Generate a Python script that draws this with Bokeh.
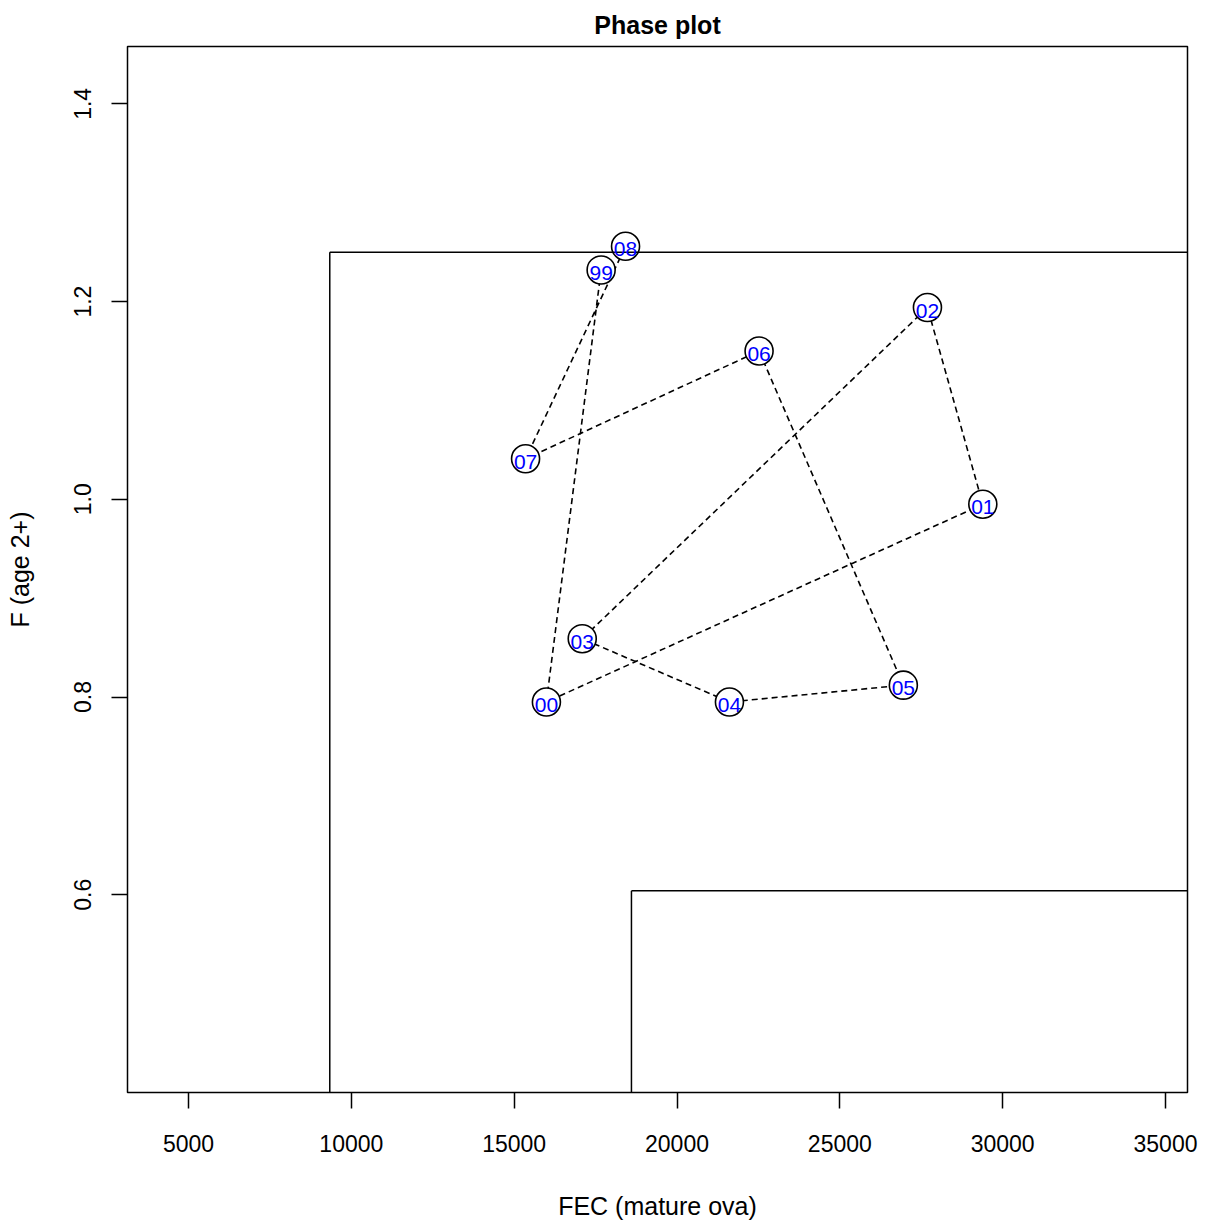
from bokeh.plotting import figure
from bokeh.models import Range1d, FixedTicker, NumeralTickFormatter, ColumnDataSource
from bokeh.embed import file_html
from bokeh.resources import INLINE

# ---- data ----
years = ["99", "00", "01", "02", "03", "04", "05", "06", "07", "08"]
fec = [17670, 15990, 29390, 27690, 17090, 21610, 26950, 22520, 15350, 18420]
f_age2 = [1.232, 0.795, 0.995, 1.194, 0.859, 0.795, 0.812, 1.150, 1.041, 1.256]

blim = 9338
flim = 1.25
bpa = 18601
fpa = 0.604

x_ticks = [5000, 10000, 15000, 20000, 25000, 30000, 35000]
y_ticks = [0.6, 0.8, 1.0, 1.2, 1.4]

x_lo, x_hi = 3127, 35675
y_lo, y_hi = 0.400, 1.458

FONT = "Liberation Sans"

p = figure(frame_width=1060, frame_height=1046,
           x_range=Range1d(x_lo, x_hi), y_range=Range1d(y_lo, y_hi),
           output_backend="svg", toolbar_location=None,
           min_border_left=127, min_border_right=21,
           min_border_top=46, min_border_bottom=130,
           title="Phase plot")
p.background_fill_color = "white"
p.border_fill_color = "white"
p.outline_line_color = "black"
p.outline_line_width = 1.5
p.grid.visible = False

p.title.align = "center"
p.title.text_font = FONT
p.title.text_font_size = "25px"
p.title.text_font_style = "bold"
p.title.text_color = "black"
p.title.standoff = 16

for ax in (p.xaxis[0], p.yaxis[0]):
    ax.axis_line_color = None
    ax.major_tick_in = 0
    ax.major_tick_out = 16
    ax.major_tick_line_color = "black"
    ax.major_tick_line_width = 1.5
    ax.minor_tick_line_color = None
    ax.major_label_text_font = FONT
    ax.major_label_text_font_size = "23px"
    ax.major_label_text_color = "black"
    ax.axis_label_text_font = FONT
    ax.axis_label_text_font_size = "25px"
    ax.axis_label_text_font_style = "normal"
    ax.axis_label_text_color = "black"

p.xaxis[0].ticker = FixedTicker(ticks=x_ticks)
p.xaxis[0].formatter = NumeralTickFormatter(format="0")
p.xaxis[0].axis_label = "FEC (mature ova)"
p.xaxis[0].major_label_standoff = 26
p.xaxis[0].axis_label_standoff = 37

p.yaxis[0].ticker = FixedTicker(ticks=y_ticks)
p.yaxis[0].formatter = NumeralTickFormatter(format="0.0")
p.yaxis[0].axis_label = "F (age 2+)"
p.yaxis[0].major_label_orientation = "vertical"
p.yaxis[0].major_label_standoff = 20
p.yaxis[0].axis_label_standoff = 38

src = ColumnDataSource(dict(x=fec, y=f_age2, lab=years))

p.line("x", "y", source=src, line_dash="6 4", line_width=1.6, line_color="black")
p.scatter("x", "y", source=src, marker="circle", size=28,
          fill_color="white", line_color="black", line_width=1.6)

p.segment(x0=[blim, blim, bpa, bpa], y0=[y_lo, flim, y_lo, fpa],
          x1=[blim, x_hi, bpa, x_hi], y1=[flim, flim, fpa, fpa],
          line_color="black", line_width=1.5)

p.text("x", "y", text="lab", source=src, text_color="blue",
       text_font_size="21px", text_align="center", text_baseline="middle",
       y_offset=3)

open("out.html", "w").write(file_html(p, INLINE))
